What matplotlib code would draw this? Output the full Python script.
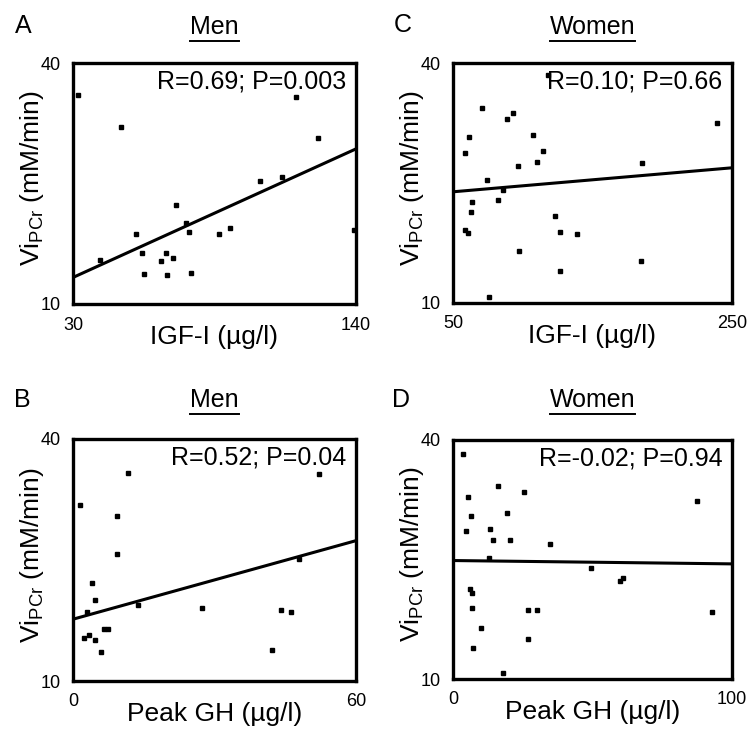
import numpy as np
import matplotlib
matplotlib.use("Agg")
import matplotlib.pyplot as plt
from matplotlib.lines import Line2D

plt.rcParams['font.family'] = ['Liberation Sans', 'DejaVu Sans']
plt.rcParams['mathtext.default'] = 'regular'

# - DATA - #
# A: men, IGF-I vs ViPCr
A_igf = [32.1, 48.6, 116.6, 125.3, 102.7, 111.4, 70.1, 73.9, 74.9, 54.6, 86.8,
         91.2, 40.4, 56.8, 66.2, 64.2, 68.7, 57.7, 66.4, 75.9, 139.2]
A_vi = [36.0, 32.0, 35.8, 30.7, 25.35, 25.85, 22.3, 20.1, 18.96, 18.7, 18.7,
        19.4, 15.5, 16.4, 16.4, 15.3, 15.7, 13.7, 13.6, 13.9, 19.2]
# B: men, peak GH vs ViPCr
B_gh = [11.6, 52.2, 1.4, 9.4, 9.4, 4.0, 4.6, 3.0, 13.7, 47.9, 27.4, 44.0,
        46.2, 42.2, 5.9, 2.3, 3.4, 4.6, 6.5, 7.4]
B_vi = [35.8, 35.65, 31.8, 30.4, 25.7, 22.2, 20.0, 18.5, 19.4, 25.1, 19.0,
        18.8, 18.5, 13.8, 13.6, 15.3, 15.7, 15.05, 16.4, 16.4]
# C: women, IGF-I vs ViPCr
C_igf = [117.9, 70.6, 88.5, 92.8, 61.5, 58.8, 107.6, 114.3, 96.8, 110.0, 239.4,
         185.5, 74.4, 86.1, 82.0, 63.6, 62.9, 58.8, 60.5, 122.9, 126.9, 138.9,
         97.5, 126.9, 185.0, 76.0]
C_vi = [38.55, 34.4, 33.0, 33.75, 30.7, 28.8, 30.95, 29.0, 27.15, 27.6, 32.5,
        27.45, 25.4, 24.15, 22.9, 22.6, 21.35, 19.1, 18.7, 20.9, 18.9, 18.6,
        16.5, 14.0, 15.2, 10.8]
# D: women, peak GH vs ViPCr
D_gh = [3.6, 16.2, 25.5, 5.4, 87.5, 19.2, 6.3, 4.6, 13.2, 14.5, 20.3, 34.7,
        12.9, 49.6, 59.7, 60.8, 6.0, 6.8, 6.8, 26.8, 30.1, 93.0, 10.0, 26.8,
        7.1, 17.9]
D_vi = [38.2, 34.2, 33.5, 32.9, 32.3, 30.8, 30.5, 28.6, 28.8, 27.5, 27.4, 27.0,
        25.25, 23.9, 22.35, 22.7, 21.3, 20.75, 18.9, 18.6, 18.7, 18.4, 16.35,
        15.0, 13.9, 10.7]

# fitted lines (intercept, slope)
fits = {"A": (8.94, 0.1455), "B": (17.66, 0.1623),
        "C": (23.15, 0.015), "D": (24.87, -0.0042)}
stats = {"A": "R=0.69; P=0.003", "B": "R=0.52; P=0.04",
         "C": "R=0.10; P=0.66", "D": "R=-0.02; P=0.94"}
xlims = {"A": (30, 140), "B": (0, 60), "C": (50, 250), "D": (0, 100)}
xlabels = {"A": "IGF-I (µg/l)", "B": "Peak GH (µg/l)",
           "C": "IGF-I (µg/l)", "D": "Peak GH (µg/l)"}
titles = {"A": "Men", "B": "Men", "C": "Women", "D": "Women"}
data = {"A": (A_igf, A_vi), "B": (B_gh, B_vi), "C": (C_igf, C_vi), "D": (D_gh, D_vi)}

W, H = 750, 731
fig = plt.figure(figsize=(W / 100, H / 100), dpi=100)

# pixel boxes: left, top, right, bottom
boxes = {"A": (73, 63, 356, 304), "C": (453, 63, 732, 303),
         "B": (73, 439, 356, 681), "D": (453, 440, 732, 679)}
letter_pos = {"A": (23, 26), "C": (403, 25), "B": (22, 400), "D": (401, 400)}
title_y = {"A": 27, "C": 27, "B": 400, "D": 400}

for key in ["A", "B", "C", "D"]:
    l, t, r, b = boxes[key]
    ax = fig.add_axes([l / W, 1 - b / H, (r - l) / W, (b - t) / H])
    x, y = data[key]
    ax.plot(x, y, 's', color='black', markersize=3, clip_on=False)
    x0, x1 = xlims[key]
    c0, c1 = fits[key]
    ax.plot([x0, x1], [c0 + c1 * x0, c0 + c1 * x1], color='black', lw=2.2)
    ax.set_xlim(x0, x1)
    ax.set_ylim(10, 40)
    ax.set_xticks([x0, x1])
    ax.set_yticks([10, 40])
    ax.tick_params(length=0, labelsize=13, pad=9)
    for s in ax.spines.values():
        s.set_linewidth(2.4)
        s.set_capstyle('projecting')
    ax.set_xlabel(xlabels[key], fontsize=19)
    ax.xaxis.set_label_coords(0.5, -0.088)
    ax.set_ylabel('Vi$_{PCr}$ (mM/min)', fontsize=19)
    ax.yaxis.set_label_coords(-0.095, 0.52)
    ax.annotate(stats[key], xy=(1, 1), xycoords='axes fraction',
                xytext=(-7, -13), textcoords='offset points',
                ha='right', va='center', fontsize=18)

    # panel title with underline
    cx = (l + r) / 2
    tt = fig.text(cx / W, 1 - title_y[key] / H, titles[key], fontsize=18,
                  ha='center', va='center')
    fig.text(letter_pos[key][0] / W, 1 - letter_pos[key][1] / H, key,
             fontsize=18, ha='center', va='center')

    fig.canvas.draw()
    bb = tt.get_window_extent()
    uy = bb.y0 - 2
    fig.add_artist(Line2D([bb.x0 / W, bb.x1 / W], [uy / H, uy / H],
                          color='black', lw=1.4, transform=fig.transFigure))

fig.savefig('out.png', dpi=100)
